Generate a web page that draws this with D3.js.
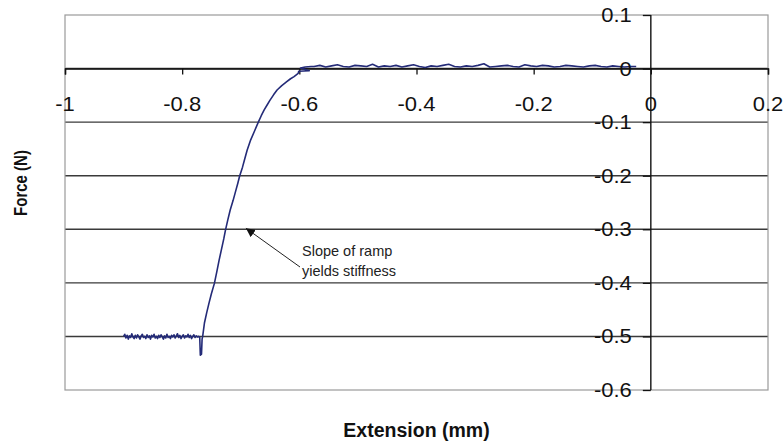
<!DOCTYPE html>
<html><head><meta charset="utf-8">
<script src="https://cdn.jsdelivr.net/npm/d3@7"></script>
<style>body{margin:0;background:#fff}svg{display:block}text{font-family:"Liberation Sans",Arial,sans-serif}</style>
</head><body>
<script>
const xTicks = [-1, -0.8, -0.6, -0.4, -0.2, 0, 0.2];
const xTickLabels = ["-1", "-0.8", "-0.6", "-0.4", "-0.2", "0", "0.2"];
const yTicks = [0.1, 0, -0.1, -0.2, -0.3, -0.4, -0.5, -0.6];
const yTickLabels = ["0.1", "0", "-0.1", "-0.2", "-0.3", "-0.4", "-0.5", "-0.6"];
const xTitle = "Extension (mm)";
const yTitle = "Force (N)";
const noteLines = ["Slope of ramp", "yields stiffness"];
const notePoint = [-0.715, -0.3];

const extension = [
 -0.900,-0.898,-0.896,-0.894,-0.892,-0.890,-0.888,-0.886,-0.884,-0.882,-0.880,-0.878,-0.876,-0.874,-0.872,-0.870,-0.868,-0.866,-0.864,-0.862,-0.860,-0.858,-0.856,-0.854,-0.852,-0.850,-0.848,-0.846,-0.844,-0.842,-0.840,-0.838,-0.836,-0.834,-0.832,-0.830,-0.828,-0.826,-0.824,-0.822,-0.820,-0.818,-0.816,-0.814,-0.812,-0.810,-0.808,-0.806,-0.804,-0.802,-0.800,-0.798,-0.796,-0.794,-0.792,-0.790,-0.788,-0.786,-0.784,-0.782,-0.780,-0.778,-0.776,-0.774,-0.772,
 -0.770,-0.769,-0.767,-0.766,-0.765,
 -0.762,-0.758,-0.754,-0.750,-0.745,-0.741,-0.737,-0.733,-0.729,-0.726,-0.722,-0.718,-0.713,-0.708,-0.705,-0.702,-0.697,-0.693,-0.689,-0.683,-0.677,-0.670,-0.665,-0.660,-0.655,-0.650,-0.644,-0.638,-0.630,-0.622,-0.615,-0.609,-0.602,
 -0.601,-0.583,-0.598,-0.590,-0.580,
 -0.575,-0.565,-0.555,-0.545,-0.535,-0.525,-0.515,-0.505,-0.495,-0.485,-0.475,-0.465,-0.455,-0.445,-0.435,-0.425,-0.415,-0.405,-0.395,-0.385,-0.375,-0.365,-0.355,-0.345,-0.335,-0.325,-0.315,-0.305,-0.295,-0.285,-0.275,-0.265,-0.255,-0.245,-0.235,-0.225,-0.215,-0.205,-0.195,-0.185,-0.175,-0.165,-0.155,-0.145,-0.135,-0.125,-0.115,-0.105,-0.095,-0.085,-0.075,-0.065,-0.055,-0.045,-0.035,-0.025
];
const force = [
 -0.500,-0.496,-0.503,-0.498,-0.505,-0.499,-0.502,-0.495,-0.501,-0.504,
 -0.498,-0.503,-0.497,-0.501,-0.505,-0.499,-0.496,-0.502,-0.500,-0.504,
 -0.497,-0.502,-0.499,-0.505,-0.498,-0.501,-0.496,-0.503,-0.500,-0.504,
 -0.498,-0.502,-0.497,-0.501,-0.505,-0.499,-0.503,-0.496,-0.502,-0.500,
 -0.504,-0.498,-0.501,-0.497,-0.503,-0.499,-0.495,-0.502,-0.498,-0.504,
 -0.500,-0.497,-0.503,-0.499,-0.501,-0.496,-0.502,-0.498,-0.504,-0.500,
 -0.497,-0.502,-0.499,-0.501,-0.500,
 -0.502,-0.535,-0.533,-0.505,-0.500,
 -0.475,-0.455,-0.437,-0.420,-0.401,-0.380,-0.358,-0.338,-0.318,-0.301,-0.282,-0.264,-0.246,-0.226,-0.214,-0.201,-0.184,-0.168,-0.152,-0.133,-0.118,-0.100,-0.088,-0.077,-0.068,-0.059,-0.049,-0.040,-0.032,-0.025,-0.019,-0.015,-0.009,
 -0.005,-0.004,0.001,0.003,0.004,
 0.004,0.006,0.003,0.005,0.007,0.004,0.003,0.006,0.005,0.004,0.008,0.003,0.005,0.004,0.006,0.003,0.005,0.007,0.004,0.002,0.005,0.004,0.006,0.008,0.004,0.003,0.005,0.004,0.006,0.009,0.003,0.004,0.005,0.006,0.004,0.003,0.007,0.005,0.004,0.006,0.005,0.003,0.004,0.006,0.005,0.004,0.003,0.005,0.006,0.004,0.003,0.005,0.004,0.003,0.004,0.004
];

const W = 784, H = 443;
const pLeft = 65, pRight = 768, pTop = 15, pBottom = 390;
const x = d3.scaleLinear().domain([-1, 0.2]).range([pLeft, pRight]);
const y = d3.scaleLinear().domain([-0.6, 0.1]).range([pBottom, pTop]);

const svg = d3.select("body").append("svg").attr("width", W).attr("height", H);

// gridlines
svg.append("g").selectAll("line").data(yTicks.filter(v => v < 0.05 && v > -0.55)).join("line")
  .attr("x1", pLeft).attr("x2", pRight).attr("y1", d => y(d)).attr("y2", d => y(d))
  .attr("stroke", "#3a3a3a").attr("stroke-width", 1.4);

// plot border
svg.append("rect").attr("x", pLeft).attr("y", pTop).attr("width", pRight - pLeft).attr("height", pBottom - pTop)
  .attr("fill", "none").attr("stroke", "#9a9a9a").attr("stroke-width", 1.2);

// x axis at y=0
const xAxis = d3.axisBottom(x).tickValues(xTicks).tickSize(6).tickFormat("");
const gx = svg.append("g").attr("transform", `translate(0,${y(0)})`).call(xAxis);
gx.select(".domain").attr("stroke", "#111").attr("stroke-width", 1.4);
gx.selectAll(".tick line").attr("stroke", "#111").attr("stroke-width", 1.3);

// y axis at x=0
const yAxis = d3.axisLeft(y).tickValues(yTicks).tickSize(8).tickFormat("");
const gy = svg.append("g").attr("transform", `translate(${x(0)},0)`).call(yAxis);
gy.select(".domain").attr("stroke", "#111").attr("stroke-width", 1.4).attr("d", `M0,${pTop}V${pBottom}`);
gy.selectAll(".tick line").attr("stroke", "#111").attr("stroke-width", 1.3);

// curve
const pts = extension.map((e, i) => [e, force[i]]);
svg.append("path").datum(pts)
  .attr("d", d3.line().x(d => x(d[0])).y(d => y(d[1])))
  .attr("fill", "none").attr("stroke", "#242b78").attr("stroke-width", 1.6).attr("stroke-linejoin", "round");

// tick labels
svg.append("g").selectAll("text").data(xTicks).join("text")
  .attr("transform", d => `translate(${x(d)},${y(0) + 42}) scale(1.1,1)`)
  .attr("text-anchor", "middle").attr("font-size", 20).attr("fill", "#111")
  .text((d, i) => xTickLabels[i]);
svg.append("g").selectAll("text").data(yTicks).join("text")
  .attr("transform", d => `translate(${x(0) - 19},${y(d) + 7}) scale(1.1,1)`)
  .attr("text-anchor", "end").attr("font-size", 20).attr("fill", "#111")
  .text((d, i) => yTickLabels[i]);

// titles
svg.append("text").attr("x", (pLeft + pRight) / 2).attr("y", 437).attr("text-anchor", "middle")
  .attr("font-size", 19.5).attr("font-weight", "bold").attr("fill", "#111").text(xTitle);
svg.append("text").attr("transform", `translate(27,183) rotate(-90) scale(1,1.25)`).attr("text-anchor", "middle")
  .attr("font-size", 15).attr("font-weight", "bold").attr("fill", "#111").text(yTitle);

// annotation
svg.append("defs").append("marker").attr("id", "ah").attr("viewBox", "0 0 10 10")
  .attr("refX", 10).attr("refY", 5).attr("markerWidth", 9).attr("markerHeight", 9).attr("orient", "auto")
  .attr("markerUnits", "userSpaceOnUse")
  .append("path").attr("d", "M0,0L10,5L0,10z").attr("fill", "#111");
svg.append("line").attr("x1", 300).attr("y1", 267).attr("x2", x(notePoint[0]) + 14).attr("y2", y(notePoint[1]) - 1)
  .attr("stroke", "#222").attr("stroke-width", 1).attr("marker-end", "url(#ah)");
svg.append("g").selectAll("text").data(noteLines).join("text")
  .attr("x", 302).attr("y", (d, i) => 256 + i * 20).attr("font-size", 14.5).attr("fill", "#222").text(d => d);
</script>
</body></html>
